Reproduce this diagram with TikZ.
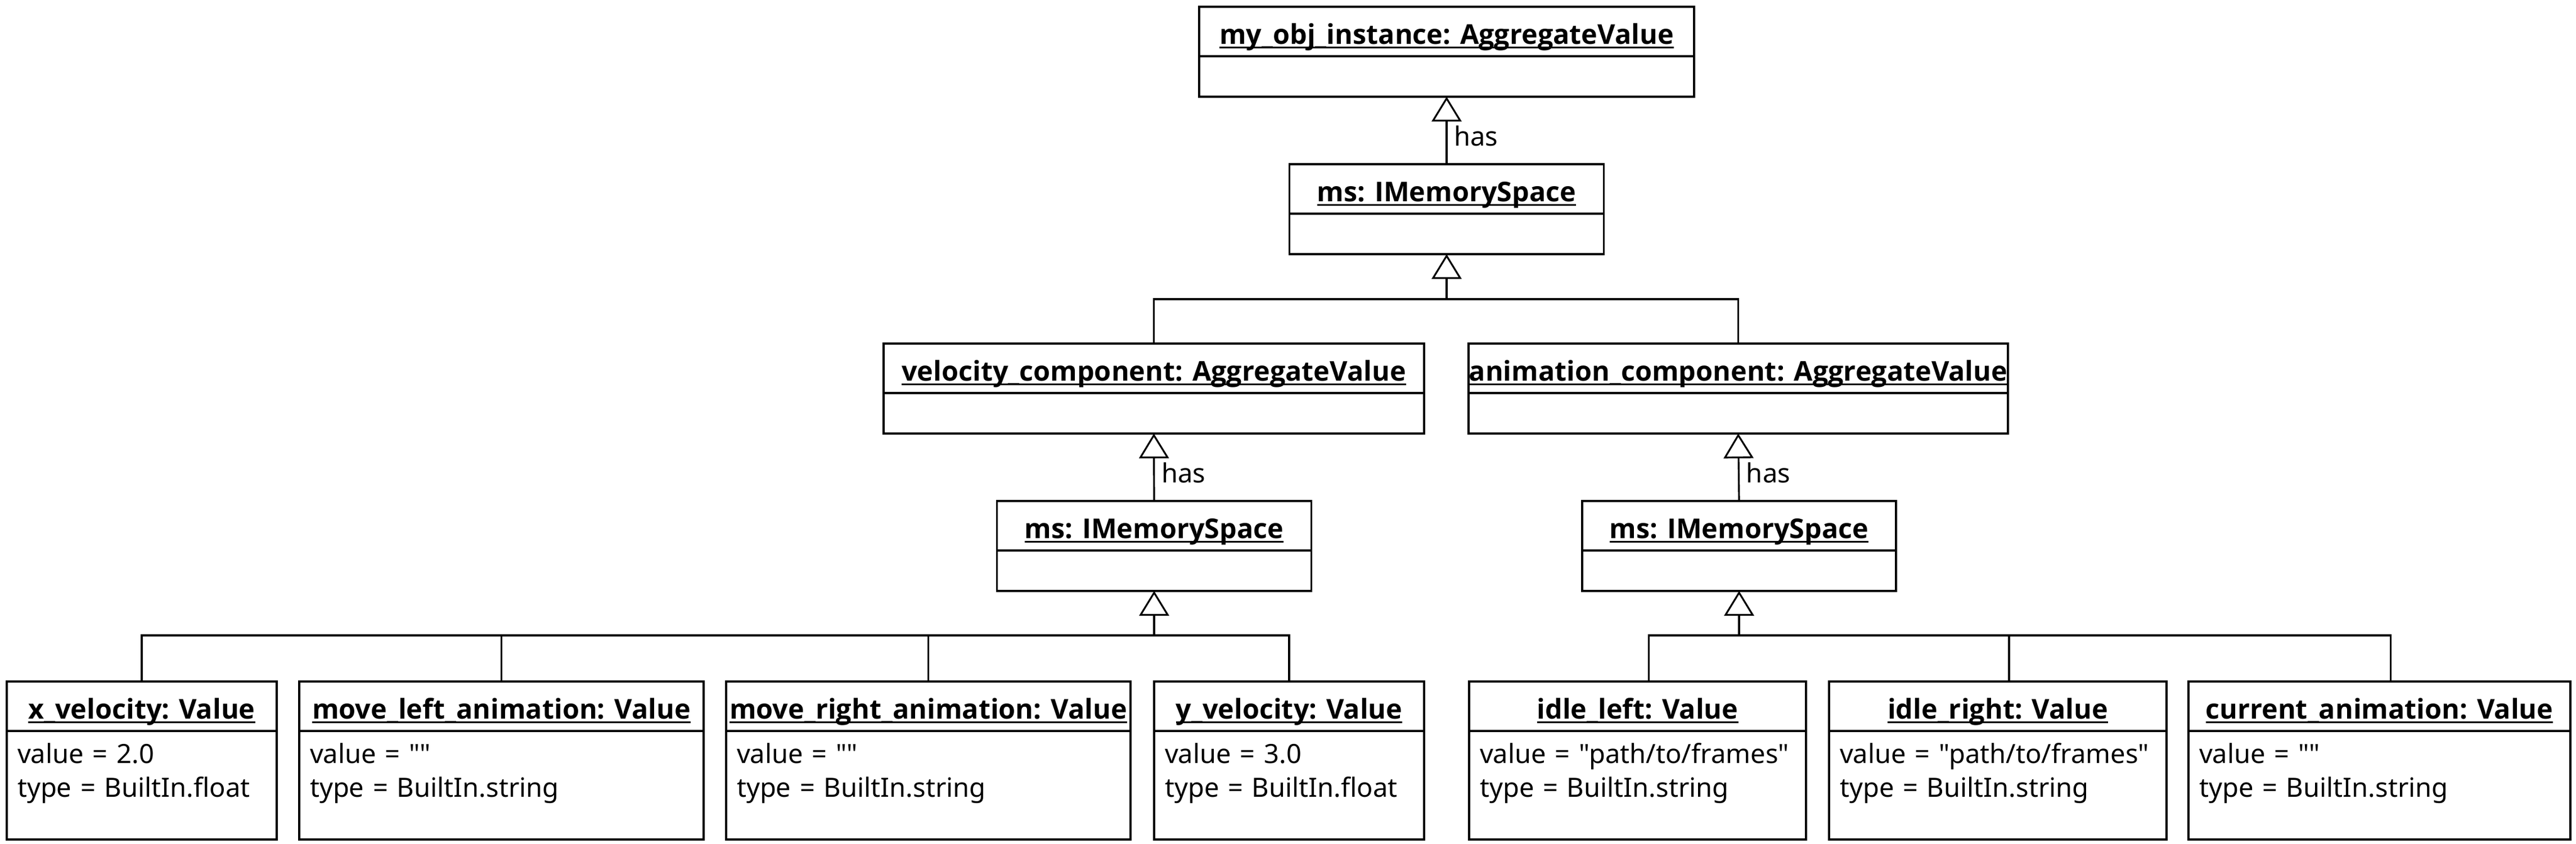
\documentclass[tikz,border=0pt]{standalone}
\usepackage{fontspec}
\setmainfont{Noto Sans}[Ligatures=TeXOff]
\newfontfamily\titlefont{Open Sans}[Ligatures=TeXOff]
\usetikzlibrary{positioning,arrows.meta}

\newcommand{\uname}[1]{\setbox0\hbox{\titlefont\bfseries\fontsize{13.8pt}{16pt}\selectfont #1}\rlap{\rule[-2.4pt]{\wd0}{0.85pt}}\box0}

\begin{document}
\begin{tikzpicture}[y=-1cm, font=\fontsize{13.4pt}{0.6cm}\selectfont,
	objhead/.style={draw, line width=1.1pt, outer sep=0pt, inner sep=0pt, anchor=north, text height=0.66cm, text depth=0.22cm},
	objbody/.style={draw, line width=1.1pt, outer sep=0pt, inner ysep=0pt, inner xsep=0.19cm, below=0pt of #1},
	attrs/.style={text width=#1, align=left},
	link/.style={line width=0.9pt},
	inherit/.style={line width=0.9pt, -{Triangle[open, width=0.53cm, length=0.44cm]}},
	haslbl/.style={anchor=base west, pos=0.275}]
	\useasboundingbox (0,0) rectangle (45.80,15.00);

	\node[objhead, minimum width=8.80cm] (top) at (25.72,0.12) {\uname{my\_obj\_instance: AggregateValue}};
	\node[objbody=top, minimum width=8.80cm, minimum height=0.72cm] (top-b) {};
	\node[objhead, minimum width=5.59cm] (ms0) at (25.72,2.92) {\uname{ms: IMemorySpace}};
	\node[objbody=ms0, minimum width=5.59cm, minimum height=0.72cm] (ms0-b) {};

	\node[objhead, minimum width=9.61cm] (vc) at (20.515,6.11) {\uname{velocity\_component: AggregateValue}};
	\node[objbody=vc, minimum width=9.61cm, minimum height=0.72cm] (vc-b) {};
	\node[objhead, minimum width=9.59cm] (ac) at (30.905,6.11) {\uname{animation\_component: AggregateValue}};
	\node[objbody=ac, minimum width=9.59cm, minimum height=0.72cm] (ac-b) {};

	\node[objhead, minimum width=5.59cm] (ms1) at (20.52,8.91) {\uname{ms: IMemorySpace}};
	\node[objbody=ms1, minimum width=5.59cm, minimum height=0.72cm] (ms1-b) {};
	\node[objhead, minimum width=5.58cm] (ms2) at (30.92,8.91) {\uname{ms: IMemorySpace}};
	\node[objbody=ms2, minimum width=5.58cm, minimum height=0.72cm] (ms2-b) {};

	\node[objhead, minimum width=4.80cm] (xv) at (2.52,12.12) {\uname{x\_velocity: Value}};
	\node[objbody=xv, attrs=4.42cm] (xv-b) {\rule{0pt}{0.57cm}\mbox{value = 2.0}\\\mbox{type = BuiltIn.float}\rule[-0.76cm]{0pt}{0pt}};
	\node[objhead, minimum width=7.19cm] (ml) at (8.915,12.12) {\uname{move\_left\_animation: Value}};
	\node[objbody=ml, attrs=6.81cm] (ml-b) {\rule{0pt}{0.57cm}\mbox{value = ""}\\\mbox{type = BuiltIn.string}\rule[-0.76cm]{0pt}{0pt}};
	\node[objhead, minimum width=7.19cm] (mr) at (16.505,12.12) {\uname{move\_right\_animation: Value}};
	\node[objbody=mr, attrs=6.81cm] (mr-b) {\rule{0pt}{0.57cm}\mbox{value = ""}\\\mbox{type = BuiltIn.string}\rule[-0.76cm]{0pt}{0pt}};
	\node[objhead, minimum width=4.80cm] (yv) at (22.92,12.12) {\uname{y\_velocity: Value}};
	\node[objbody=yv, attrs=4.42cm] (yv-b) {\rule{0pt}{0.57cm}\mbox{value = 3.0}\\\mbox{type = BuiltIn.float}\rule[-0.76cm]{0pt}{0pt}};

	\node[objhead, minimum width=5.99cm] (il) at (29.115,12.12) {\uname{idle\_left: Value}};
	\node[objbody=il, attrs=5.61cm] (il-b) {\rule{0pt}{0.57cm}\mbox{value = "path/to/frames"}\\\mbox{type = BuiltIn.string}\rule[-0.76cm]{0pt}{0pt}};
	\node[objhead, minimum width=6.00cm] (ir) at (35.52,12.12) {\uname{idle\_right: Value}};
	\node[objbody=ir, attrs=5.62cm] (ir-b) {\rule{0pt}{0.57cm}\mbox{value = "path/to/frames"}\\\mbox{type = BuiltIn.string}\rule[-0.76cm]{0pt}{0pt}};
	\node[objhead, minimum width=6.79cm] (ca) at (42.305,12.12) {\uname{current\_animation: Value}};
	\node[objbody=ca, attrs=6.41cm] (ca-b) {\rule{0pt}{0.57cm}\mbox{value = ""}\\\mbox{type = BuiltIn.string}\rule[-0.76cm]{0pt}{0pt}};

	\coordinate (bus0) at (0,5.32);
	\coordinate (bus1) at (0,11.30);
	\coordinate (bus2) at (0,11.30);

	\draw[inherit] (ms0.north) -- node[haslbl]{has} (top-b.south);
	\draw[link] (vc.north) |- (ms0-b.south |- bus0);
	\draw[link] (ac.north) |- (ms0-b.south |- bus0);
	\draw[inherit] (ms0-b.south |- bus0) -- (ms0-b.south);

	\draw[inherit] (ms1.north) -- node[haslbl]{has} (vc-b.south);
	\draw[inherit] (ms2.north) -- node[haslbl]{has} (ac-b.south);

	\draw[link] (xv.north) |- (ms1-b.south |- bus1);
	\draw[link] (ml.north) -- (ml.north |- bus1);
	\draw[link] (mr.north) -- (mr.north |- bus1);
	\draw[link] (yv.north) |- (ms1-b.south |- bus1);
	\draw[inherit] (ms1-b.south |- bus1) -- (ms1-b.south);

	\draw[link] (il.north) ++(0.2,0) coordinate (il-t) |- (ms2-b.south |- bus2);
	\draw[link] (ir.north) ++(0.2,0) coordinate (ir-t) -- (ir-t |- bus2);
	\draw[link] (ca.north) ++(0.2,0) coordinate (ca-t) |- (ms2-b.south |- bus2);
	\draw[inherit] (ms2-b.south |- bus2) -- (ms2-b.south);
\end{tikzpicture}
\end{document}
